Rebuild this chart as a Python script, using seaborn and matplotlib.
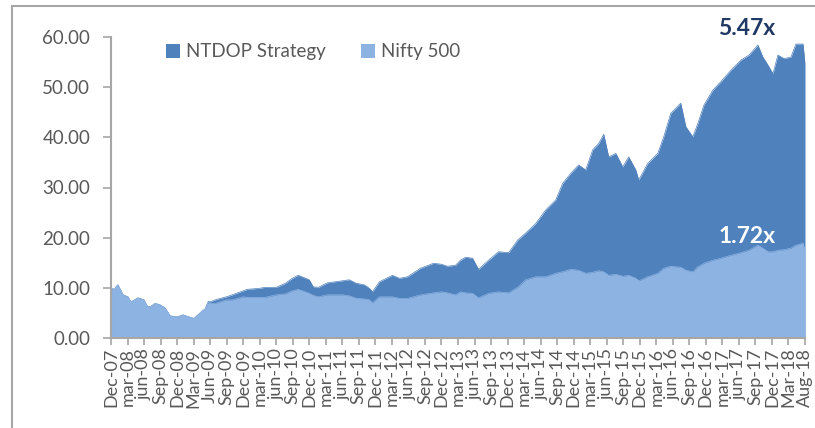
import matplotlib
matplotlib.use("Agg")
import matplotlib.pyplot as plt
import seaborn as sns
import pandas as pd
from matplotlib.patches import Rectangle

# time position in quarters since Dec-07 (category axis positions)
t = [0, 0.18, 0.42, 0.73, 1.03, 1.21, 1.64, 2.0, 2.18, 2.36, 2.67, 2.97, 3.27, 3.58,
     4.0, 4.36, 4.91, 5.03, 5.52, 5.70, 5.88, 6.0, 6.30, 6.97, 7.33, 8.0, 8.24, 8.97,
     9.33, 10.0, 10.55, 10.97, 11.33, 12.0, 12.24, 12.55, 13.09, 14.0, 14.42, 14.85,
     15.33, 15.64, 15.82, 16.24, 17.03, 17.45, 17.94, 18.73, 19.52, 20.0, 20.36, 20.85,
     21.15, 21.45, 21.88, 22.24, 22.85, 23.45, 24.06, 24.61, 25.09, 25.70, 26.30, 26.91,
     27.33, 27.82, 28.30, 28.73, 29.15, 29.52, 29.82, 30.12, 30.55, 30.97, 31.33, 31.76,
     31.94, 32.48, 33.09, 33.45, 33.88, 34.48, 34.79, 35.21, 35.52, 35.88, 36.42, 36.91,
     37.52, 38.12, 38.61, 39.15, 39.45, 39.76, 40.06, 40.36, 40.73, 41.15, 41.45, 41.88, 42.0]

ntdop = [10.0, 9.7, 10.6, 8.6, 8.2, 7.2, 8.0, 7.6, 6.4, 6.2, 6.9, 6.6, 6.0, 4.4,
         4.2, 4.6, 4.0, 3.9, 5.4, 5.8, 7.3, 7.2, 7.6, 8.2, 8.6, 9.4, 9.7, 9.9,
         10.1, 10.1, 10.9, 11.9, 12.5, 11.6, 10.2, 10.1, 11.0, 11.4, 11.6, 10.9,
         10.6, 9.9, 9.2, 11.2, 12.5, 11.9, 12.2, 13.9, 14.9, 14.7, 14.3, 14.5,
         15.5, 16.1, 15.9, 13.7, 15.5, 17.2, 17.0, 19.5, 20.9, 22.8, 25.5, 27.5,
         30.8, 32.8, 34.5, 33.5, 37.5, 38.8, 40.6, 36.1, 36.8, 34.1, 36.1, 33.5,
         31.5, 34.8, 36.8, 40.1, 44.8, 46.8, 42.1, 40.1, 42.8, 46.4, 49.4, 51.1,
         53.4, 55.4, 56.4, 58.4, 56.0, 54.4, 52.7, 56.4, 55.7, 56.0, 58.6, 58.6, 54.7]

nifty = [10.0, 9.7, 10.6, 8.6, 8.2, 7.2, 8.0, 7.6, 6.4, 6.2, 6.9, 6.6, 6.0, 4.4,
         4.2, 4.6, 4.0, 3.9, 5.4, 5.8, 7.1, 6.9, 6.9, 7.6, 7.6, 8.2, 8.1, 8.1,
         8.1, 8.6, 8.8, 9.4, 9.7, 8.9, 8.5, 8.2, 8.6, 8.6, 8.4, 7.9,
         7.8, 7.6, 7.0, 8.2, 8.2, 7.9, 7.9, 8.6, 9.0, 9.2, 9.0, 8.6,
         9.2, 9.0, 8.9, 8.0, 8.9, 9.2, 9.0, 10.1, 11.6, 12.2, 12.2, 12.9,
         13.2, 13.7, 13.5, 12.9, 13.1, 13.4, 13.2, 12.5, 12.7, 12.3, 12.5, 11.9,
         11.4, 12.2, 12.9, 13.9, 14.3, 14.1, 13.5, 13.2, 14.2, 14.9, 15.5, 15.9,
         16.5, 17.0, 17.5, 18.5, 17.9, 17.2, 17.2, 17.5, 17.6, 17.9, 18.5, 18.9, 17.4]

tick_labels = ["Dec-07", "mar-08", "jun-08", "Sep-08", "Dec-08", "Mar-09", "Jun-09",
               "Sep-09", "Dec-09", "mar-10", "jun-10", "Sep-10", "Dec-10", "mar-11",
               "jun-11", "Sep-11", "Dec-11", "mar-12", "jun-12", "Sep-12", "Dec-12",
               "mar-13", "jun-13", "Sep-13", "Dec-13", "mar-14", "jun-14", "Sep-14",
               "Dec-14", "mar-15", "jun-15", "Sep-15", "Dec-15", "mar-16", "jun-16",
               "Sep-16", "Dec-16", "mar-17", "jun-17", "Sep-17", "Dec-17", "Mar-18",
               "Aug-18"]

series_names = ["NTDOP Strategy", "Nifty 500"]
colors = ["#4F81BD", "#8DB3E2"]
end_labels = ["5.47x", "1.72x"]

sns.set_theme(style="white")
plt.rcParams["font.family"] = ["Lato", "DejaVu Sans"]

df = pd.DataFrame({"t": t, series_names[0]: ntdop, series_names[1]: nifty})
long = df.melt(id_vars="t", var_name="series", value_name="value")

fig = plt.figure(figsize=(8.15, 4.28), dpi=100)
ax = fig.add_axes([111 / 815, 1 - 338 / 428, (805 - 111) / 815, (338 - 37) / 428])

sns.lineplot(data=long, x="t", y="value", hue="series", palette=colors,
             hue_order=series_names, linewidth=0.5, legend=False, ax=ax)
ax.fill_between(df["t"], df[series_names[0]], color=colors[0], linewidth=0,
                label=series_names[0])
ax.fill_between(df["t"], df[series_names[1]], color=colors[1], linewidth=0,
                label=series_names[1])
for ln in ax.lines:
    ln.set_zorder(1)
ax.lines[1].set_zorder(3)

ax.set_xlim(0, 42)
ax.set_ylim(0, 60)
ax.set_xlabel("")
ax.set_ylabel("")
ax.set_xticks(range(len(tick_labels)))
ax.set_xticklabels(tick_labels, rotation=90)
ax.set_yticks(range(0, 61, 10))
ax.set_yticklabels([f"{v:.2f}" for v in range(0, 61, 10)])

gray = "#A6A6A6"
txt = "#595959"
for s in ["top", "right"]:
    ax.spines[s].set_visible(False)
for s in ["left", "bottom"]:
    ax.spines[s].set_color(gray)
    ax.spines[s].set_linewidth(1.5)
ax.tick_params(axis="x", direction="out", length=5, width=1.2, color=gray,
               labelcolor=txt, labelsize=13, pad=2, bottom=True)
ax.tick_params(axis="y", direction="out", length=6, width=1.2, color=gray,
               labelcolor=txt, labelsize=13.5, pad=9, left=True)

leg = ax.legend(loc="upper left", bbox_to_anchor=(0.055, 1.035), ncol=2, frameon=False,
                fontsize=13.5, handlelength=0.75, handleheight=0.75, handletextpad=0.3,
                columnspacing=1.9, labelcolor=txt)

ax.text(38.5, 61.6, end_labels[0], ha="center", va="center", fontsize=16.5,
        fontweight="bold", color="#1F3864", clip_on=False)
ax.text(38.5, 20.3, end_labels[1], ha="center", va="center", fontsize=16.5,
        fontweight="bold", color="white")

fig.patches.append(Rectangle((12 / 815, -0.2), 1.2, 1.2 - 6 / 428,
                             transform=fig.transFigure, fill=False,
                             edgecolor="#A6A6A6", linewidth=1.5))

fig.savefig("out.png", dpi=100)
